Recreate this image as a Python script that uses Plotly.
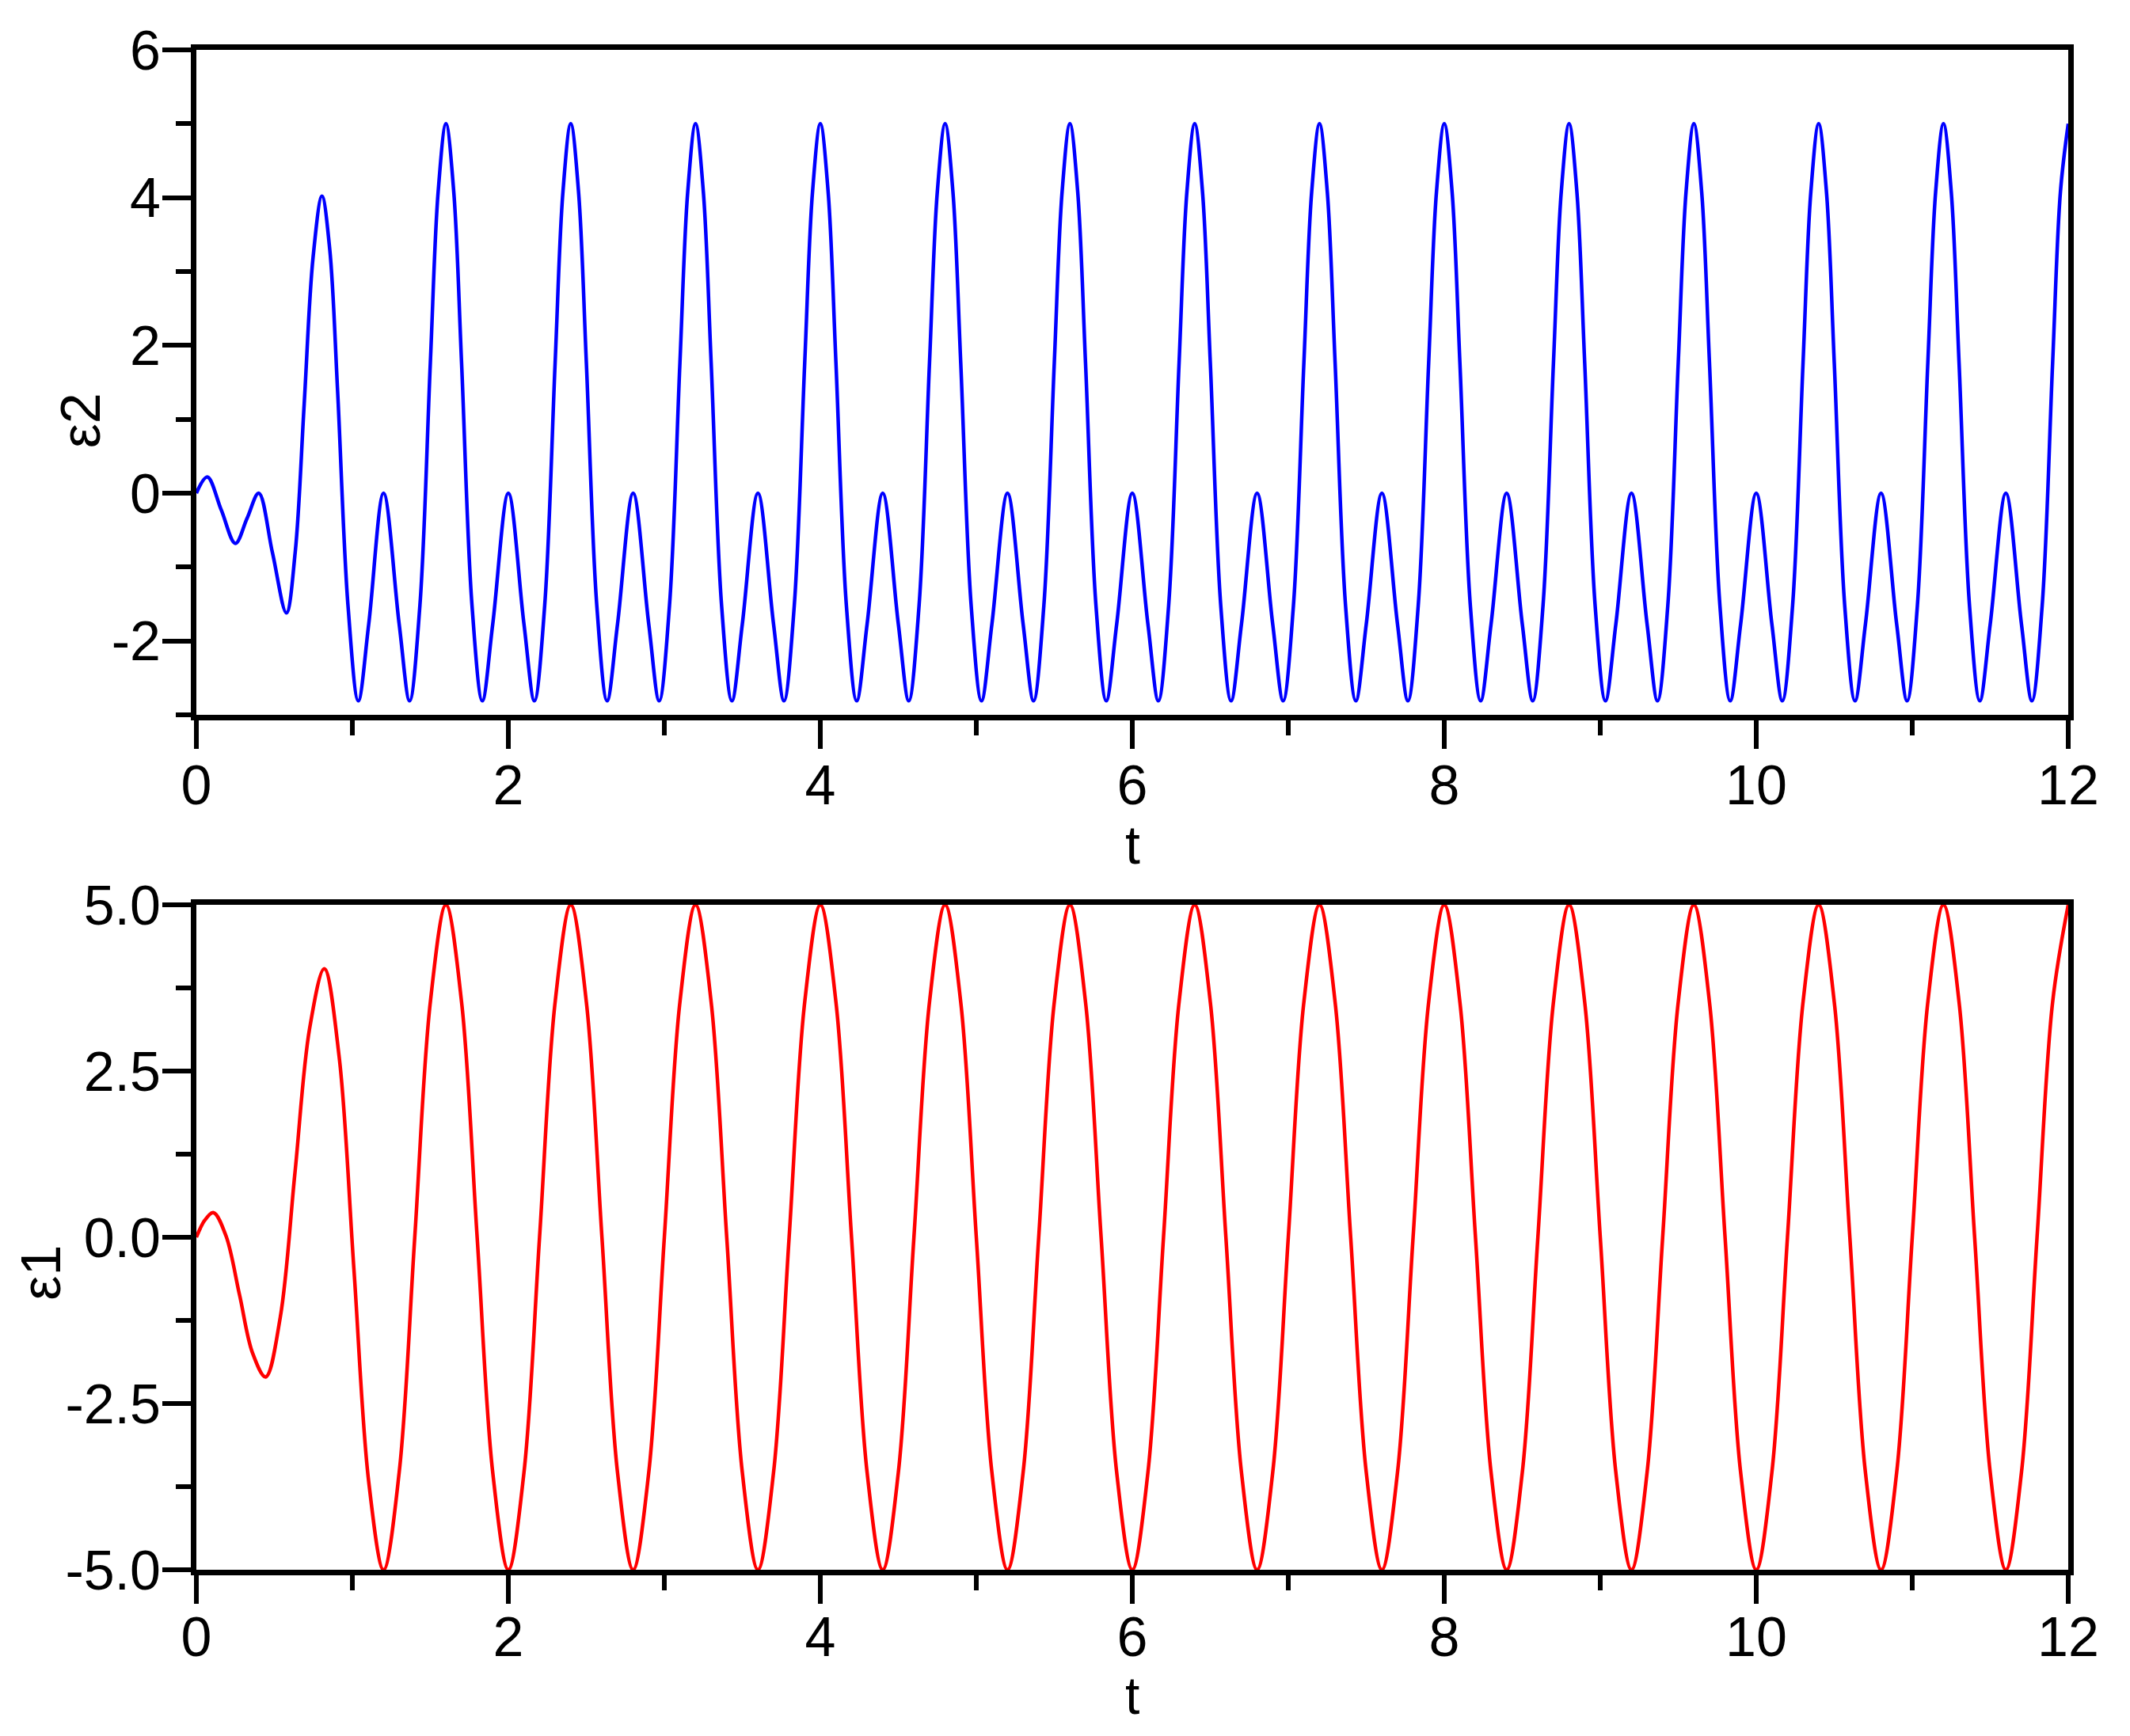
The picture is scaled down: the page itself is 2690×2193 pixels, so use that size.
import plotly.graph_objects as go
from plotly.subplots import make_subplots

FONT = "Liberation Sans, Arial, sans-serif"

# ---- data ----
# eps1 (lower panel, red)
t_eps1 = [
    0.0, 0.055, 0.11, 0.19, 0.277, 0.36, 0.444, 0.538, 0.632, 0.726, 0.82,
    0.915, 1.01, 1.105, 1.2,
    1.3, 1.4, 1.5, 1.6, 1.7, 1.8, 1.9, 2.0,
    2.1, 2.2, 2.3, 2.4, 2.5, 2.6, 2.7, 2.8,
    2.9, 3.0, 3.1, 3.2, 3.3, 3.4, 3.5, 3.6,
    3.7, 3.8, 3.9, 4.0, 4.1, 4.2, 4.3, 4.4,
    4.5, 4.6, 4.7, 4.8, 4.9, 5.0, 5.1, 5.2,
    5.3, 5.4, 5.5, 5.6, 5.7, 5.8, 5.9, 6.0,
    6.1, 6.2, 6.3, 6.4, 6.5, 6.6, 6.7, 6.8,
    6.9, 7.0, 7.1, 7.2, 7.3, 7.4, 7.5, 7.6,
    7.7, 7.8, 7.9, 8.0, 8.1, 8.2, 8.3, 8.4,
    8.5, 8.6, 8.7, 8.8, 8.9, 9.0, 9.1, 9.2,
    9.3, 9.4, 9.5, 9.6, 9.7, 9.8, 9.9, 10.0,
    10.1, 10.2, 10.3, 10.4, 10.5, 10.6, 10.7, 10.8,
    10.9, 11.0, 11.1, 11.2, 11.3, 11.4, 11.5, 11.6,
    11.7, 11.8, 11.9, 12.0,
]
eps1 = [
    0.0, 0.26, 0.37, 0.02, -0.87, -1.74, -2.1, -1.2, 0.97, 3.14, 4.04,
    2.72, -0.48, -3.68, -5.0,
    -3.54, 0, 3.54, 5, 3.54, 0, -3.54, -5,
    -3.54, 0, 3.54, 5, 3.54, 0, -3.54, -5,
    -3.54, 0, 3.54, 5, 3.54, 0, -3.54, -5,
    -3.54, 0, 3.54, 5, 3.54, 0, -3.54, -5,
    -3.54, 0, 3.54, 5, 3.54, 0, -3.54, -5,
    -3.54, 0, 3.54, 5, 3.54, 0, -3.54, -5,
    -3.54, 0, 3.54, 5, 3.54, 0, -3.54, -5,
    -3.54, 0, 3.54, 5, 3.54, 0, -3.54, -5,
    -3.54, 0, 3.54, 5, 3.54, 0, -3.54, -5,
    -3.54, 0, 3.54, 5, 3.54, 0, -3.54, -5,
    -3.54, 0, 3.54, 5, 3.54, 0, -3.54, -5,
    -3.54, 0, 3.54, 5, 3.54, 0, -3.54, -5,
    -3.54, 0, 3.54, 5, 3.54, 0, -3.54, -5,
    -3.54, 0, 3.54, 5,
]

# eps2 (upper panel, blue)
t_eps2 = [
    0.0, 0.07, 0.16, 0.25, 0.325, 0.40, 0.488, 0.577, 0.634, 0.691, 0.748,
    0.805, 0.855, 0.905, 0.972, 1.038, 1.105, 1.2, 1.3, 1.367, 1.433, 1.5, 1.55,
    1.6, 1.65, 1.7, 1.767, 1.833, 1.9, 2.0, 2.1, 2.167, 2.233, 2.3, 2.35,
    2.4, 2.45, 2.5, 2.567, 2.633, 2.7, 2.8, 2.9, 2.967, 3.033, 3.1, 3.15,
    3.2, 3.25, 3.3, 3.367, 3.433, 3.5, 3.6, 3.7, 3.767, 3.833, 3.9, 3.95,
    4.0, 4.05, 4.1, 4.167, 4.233, 4.3, 4.4, 4.5, 4.567, 4.633, 4.7, 4.75,
    4.8, 4.85, 4.9, 4.967, 5.033, 5.1, 5.2, 5.3, 5.367, 5.433, 5.5, 5.55,
    5.6, 5.65, 5.7, 5.767, 5.833, 5.9, 6.0, 6.1, 6.167, 6.233, 6.3, 6.35,
    6.4, 6.45, 6.5, 6.567, 6.633, 6.7, 6.8, 6.9, 6.967, 7.033, 7.1, 7.15,
    7.2, 7.25, 7.3, 7.367, 7.433, 7.5, 7.6, 7.7, 7.767, 7.833, 7.9, 7.95,
    8.0, 8.05, 8.1, 8.167, 8.233, 8.3, 8.4, 8.5, 8.567, 8.633, 8.7, 8.75,
    8.8, 8.85, 8.9, 8.967, 9.033, 9.1, 9.2, 9.3, 9.367, 9.433, 9.5, 9.55,
    9.6, 9.65, 9.7, 9.767, 9.833, 9.9, 10.0, 10.1, 10.167, 10.233, 10.3, 10.35,
    10.4, 10.45, 10.5, 10.567, 10.633, 10.7, 10.8, 10.9, 10.967, 11.033, 11.1, 11.15,
    11.2, 11.25, 11.3, 11.367, 11.433, 11.5, 11.6, 11.7, 11.767, 11.833, 11.9, 11.95,
    12.0,
]
eps2 = [
    0.0, 0.22, -0.23, -0.68, -0.34, 0.0, -0.81, -1.62, -0.79, 1.2, 3.19,
    4.02, 3.3, 1.4, -1.52, -2.81, -1.77, 0.0, -1.77, -2.81, -1.52, 1.77, 4.08,
    5, 4.08, 1.77, -1.52, -2.81, -1.77, 0, -1.77, -2.81, -1.52, 1.77, 4.08,
    5, 4.08, 1.77, -1.52, -2.81, -1.77, 0, -1.77, -2.81, -1.52, 1.77, 4.08,
    5, 4.08, 1.77, -1.52, -2.81, -1.77, 0, -1.77, -2.81, -1.52, 1.77, 4.08,
    5, 4.08, 1.77, -1.52, -2.81, -1.77, 0, -1.77, -2.81, -1.52, 1.77, 4.08,
    5, 4.08, 1.77, -1.52, -2.81, -1.77, 0, -1.77, -2.81, -1.52, 1.77, 4.08,
    5, 4.08, 1.77, -1.52, -2.81, -1.77, 0, -1.77, -2.81, -1.52, 1.77, 4.08,
    5, 4.08, 1.77, -1.52, -2.81, -1.77, 0, -1.77, -2.81, -1.52, 1.77, 4.08,
    5, 4.08, 1.77, -1.52, -2.81, -1.77, 0, -1.77, -2.81, -1.52, 1.77, 4.08,
    5, 4.08, 1.77, -1.52, -2.81, -1.77, 0, -1.77, -2.81, -1.52, 1.77, 4.08,
    5, 4.08, 1.77, -1.52, -2.81, -1.77, 0, -1.77, -2.81, -1.52, 1.77, 4.08,
    5, 4.08, 1.77, -1.52, -2.81, -1.77, 0, -1.77, -2.81, -1.52, 1.77, 4.08,
    5, 4.08, 1.77, -1.52, -2.81, -1.77, 0, -1.77, -2.81, -1.52, 1.77, 4.08,
    5, 4.08, 1.77, -1.52, -2.81, -1.77, 0, -1.77, -2.81, -1.52, 1.77, 4.08,
    5,
]

# tick labels
x_ticks = [0, 2, 4, 6, 8, 10, 12]
x_labels = ["0", "2", "4", "6", "8", "10", "12"]
x_minor = [1, 3, 5, 7, 9, 11]
y_top_ticks = [-2, 0, 2, 4, 6]
y_top_labels = ["-2", "0", "2", "4", "6"]
y_top_minor = [-3, -1, 1, 3, 5]
y_bot_ticks = [-5, -2.5, 0, 2.5, 5]
y_bot_labels = ["-5.0", "-2.5", "0.0", "2.5", "5.0"]
y_bot_minor = [-3.75, -1.25, 1.25, 3.75]

fig = make_subplots(rows=2, cols=1)

fig.add_trace(go.Scatter(x=t_eps2, y=eps2, mode="lines",
                         line=dict(color="#0000FF", width=4.5, shape="spline"),
                         showlegend=False), row=1, col=1)
fig.add_trace(go.Scatter(x=t_eps1, y=eps1, mode="lines",
                         line=dict(color="#FF0000", width=4.5, shape="spline"),
                         showlegend=False), row=2, col=1)

axis_style = dict(
    showline=True, linewidth=7, linecolor="black", mirror=True,
    ticks="outside", ticklen=36, tickwidth=6, tickcolor="black",
    showgrid=False, zeroline=False,
    tickfont=dict(family=FONT, size=70, color="black"),
)
minor_style = dict(ticks="outside", ticklen=19, tickwidth=6, tickcolor="black", showgrid=False)

fig.update_xaxes(axis_style, range=[0, 12], tickmode="array",
                 tickvals=x_ticks, ticktext=x_labels, ticklabelstandoff=-14,
                 minor=dict(minor_style, tickvals=x_minor), row=1, col=1)
fig.update_xaxes(axis_style, range=[0, 12], tickmode="array",
                 tickvals=x_ticks, ticktext=x_labels, ticklabelstandoff=-18,
                 minor=dict(minor_style, tickvals=x_minor), row=2, col=1)

fig.update_yaxes(axis_style, range=[-3, 6], tickmode="array",
                 tickvals=y_top_ticks, ticktext=y_top_labels, ticklabelstandoff=-12,
                 minor=dict(minor_style, tickvals=y_top_minor), row=1, col=1)
fig.update_yaxes(axis_style, range=[-5, 5], tickmode="array",
                 tickvals=y_bot_ticks, ticktext=y_bot_labels, ticklabelstandoff=-12,
                 minor=dict(minor_style, tickvals=y_bot_minor), row=2, col=1)

# page body keeps an 8px margin, so the figure is drawn 16px smaller
fig.update_layout(
    width=2674, height=2177,
    margin=dict(l=240, r=70, t=55, b=202),
    paper_bgcolor="white", plot_bgcolor="white",
    font=dict(family=FONT, size=70, color="black"),
    xaxis=dict(domain=[0, 1]), xaxis2=dict(domain=[0, 1]),
    yaxis=dict(domain=[0.5625, 1.0]), yaxis2=dict(domain=[0.0, 0.4375]),
)

titles = [
    dict(text="ε2", x=-0.062, y=0.7563, textangle=-90, size=70),
    dict(text="ε1", x=-0.083, y=0.1953, textangle=-90, size=70),
    dict(text="t", x=0.5, y=0.477, textangle=0, height=56, size=68),
    dict(text="t", x=0.5, y=-0.083, textangle=0, height=52, size=66),
]
for a in titles:
    size = a.pop("size")
    fig.add_annotation(xref="paper", yref="paper", showarrow=False,
                       xanchor="center", yanchor="middle", valign="middle",
                       font=dict(family=FONT, size=size, color="black"), **a)

fig.write_html("out.html")
